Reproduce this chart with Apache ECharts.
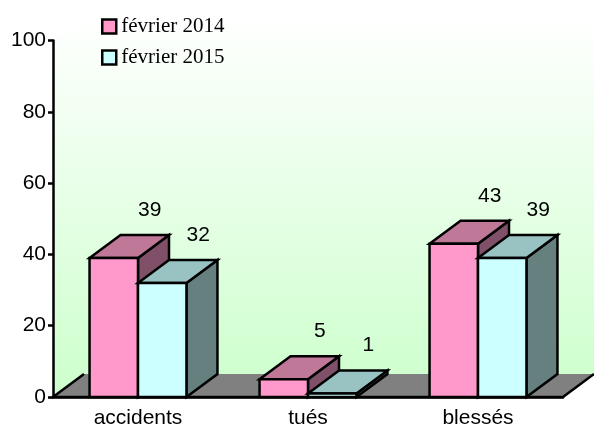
<!DOCTYPE html>
<html>
<head>
<meta charset="utf-8">
<script src="https://cdn.jsdelivr.net/npm/echarts@6/dist/echarts.min.js"></script>
<style>
  html, body { margin: 0; padding: 0; background: #fff; }
  #main { width: 594px; height: 430px; }
</style>
</head>
<body>
<div id="main"></div>
<script>
// données
var categories = ['accidents', 'tués', 'blessés'];
var seriesNames = ['février 2014', 'février 2015'];
var fevrier2014 = [39, 5, 43];
var fevrier2015 = [32, 1, 39];
var yMin = 0, yMax = 100, yStep = 20;

// profondeur 3D (pixels)
var DX = 31, DY = -23;
var BAR_RATIO = 0.285;
var SANS = '"Liberation Sans", Arial, sans-serif';

var palettes = [
    { front: '#FF99CC', top: '#C07898', side: '#805068' },
    { front: '#CCFFFF', top: '#99C2C2', side: '#668080' }
];

var myChart = echarts.init(document.getElementById('main'));

function renderWall(params, api) {
    var cs = params.coordSys;
    var l = cs.x, r = cs.x + cs.width, t = cs.y, b = cs.y + cs.height;
    return {
        type: 'group',
        children: [
            {
                type: 'polygon',
                shape: { points: [[l, b], [l, t], [l + DX, t + DY], [r + DX, t + DY], [r + DX, b + DY], [l + DX, b + DY]] },
                style: {
                    fill: new echarts.graphic.LinearGradient(0, 0, 0, 1, [
                        { offset: 0, color: '#FFFFFF' },
                        { offset: 1, color: '#CCFFCC' }
                    ])
                }
            },
            {
                type: 'polygon',
                shape: { points: [[l, b], [r, b], [r + DX, b + DY], [l + DX, b + DY]] },
                style: { fill: '#808080' }
            },
            {
                type: 'polyline',
                shape: { points: [[l + DX, b + DY], [l, b], [r, b], [r + DX, b + DY]] },
                style: { stroke: '#000', lineWidth: 2.5, fill: null }
            }
        ]
    };
}

function makeBarRender(idx) {
    var pal = palettes[idx];
    return function (params, api) {
        var cat = api.value(0), val = api.value(1);
        var base = api.coord([cat, 0]);
        var top = api.coord([cat, val]);
        var w = api.size([1, 0])[0] * BAR_RATIO;
        var x0 = idx === 0 ? base[0] - w : base[0];
        var x1 = x0 + w;
        var ty = top[1], by = base[1];
        var line = { stroke: '#000', lineWidth: 2.5, lineJoin: 'miter' };
        return {
            type: 'group',
            children: [
                {
                    type: 'polygon',
                    shape: { points: [[x1, ty], [x1 + DX, ty + DY], [x1 + DX, by + DY], [x1, by]] },
                    style: Object.assign({ fill: pal.side }, line)
                },
                {
                    type: 'polygon',
                    shape: { points: [[x0, ty], [x1, ty], [x1 + DX, ty + DY], [x0 + DX, ty + DY]] },
                    style: Object.assign({ fill: pal.top }, line)
                },
                {
                    type: 'rect',
                    shape: { x: x0, y: ty, width: w, height: by - ty },
                    style: Object.assign({ fill: pal.front }, line)
                },
                {
                    type: 'text',
                    style: {
                        text: String(val),
                        x: x0 + w / 2 + DX + 5,
                        y: ty + DY - 25,
                        align: 'center',
                        verticalAlign: 'middle',
                        fill: '#000',
                        font: '21px ' + SANS
                    }
                }
            ]
        };
    };
}

function toData(vals) {
    return vals.map(function (v, i) { return [i, v]; });
}

var option = {
    animation: false,
    backgroundColor: '#fff',
    grid: { left: 53, right: 31, top: 40.5, bottom: 33 },
    legend: {
        orient: 'vertical',
        left: 96,
        top: 11,
        itemGap: 10,
        icon: 'rect',
        itemWidth: 14,
        itemHeight: 14,
        itemStyle: { borderColor: '#000', borderWidth: 2.5 },
        textStyle: { fontFamily: '"Liberation Serif", "Times New Roman", serif', fontSize: 21, color: '#000' },
        data: seriesNames
    },
    xAxis: {
        type: 'category',
        data: categories,
        z: 10,
        axisLine: { lineStyle: { color: '#000', width: 2.5 } },
        axisTick: { length: 6, lineStyle: { color: '#000', width: 2.5 } },
        axisLabel: { color: '#000', fontSize: 21, fontFamily: SANS, margin: 11 },
        splitLine: { show: false }
    },
    yAxis: {
        type: 'value',
        min: yMin,
        max: yMax,
        interval: yStep,
        z: 10,
        axisLine: { show: true, lineStyle: { color: '#000', width: 2.5 } },
        axisTick: { show: true, length: 5, lineStyle: { color: '#000', width: 2.5 } },
        axisLabel: { color: '#000', fontSize: 21, fontFamily: SANS, margin: 7 },
        splitLine: { show: false }
    },
    series: [
        {
            name: 'fond',
            type: 'custom',
            renderItem: renderWall,
            data: [[0, 0]],
            z: 1,
            silent: true
        },
        {
            name: seriesNames[0],
            type: 'custom',
            renderItem: makeBarRender(0),
            itemStyle: { color: palettes[0].front },
            data: toData(fevrier2014),
            z: 3
        },
        {
            name: seriesNames[1],
            type: 'custom',
            renderItem: makeBarRender(1),
            itemStyle: { color: palettes[1].front },
            data: toData(fevrier2015),
            z: 4
        }
    ]
};

if (option && typeof option === "object") {
    myChart.setOption(option, true);
}
</script>
</body>
</html>
